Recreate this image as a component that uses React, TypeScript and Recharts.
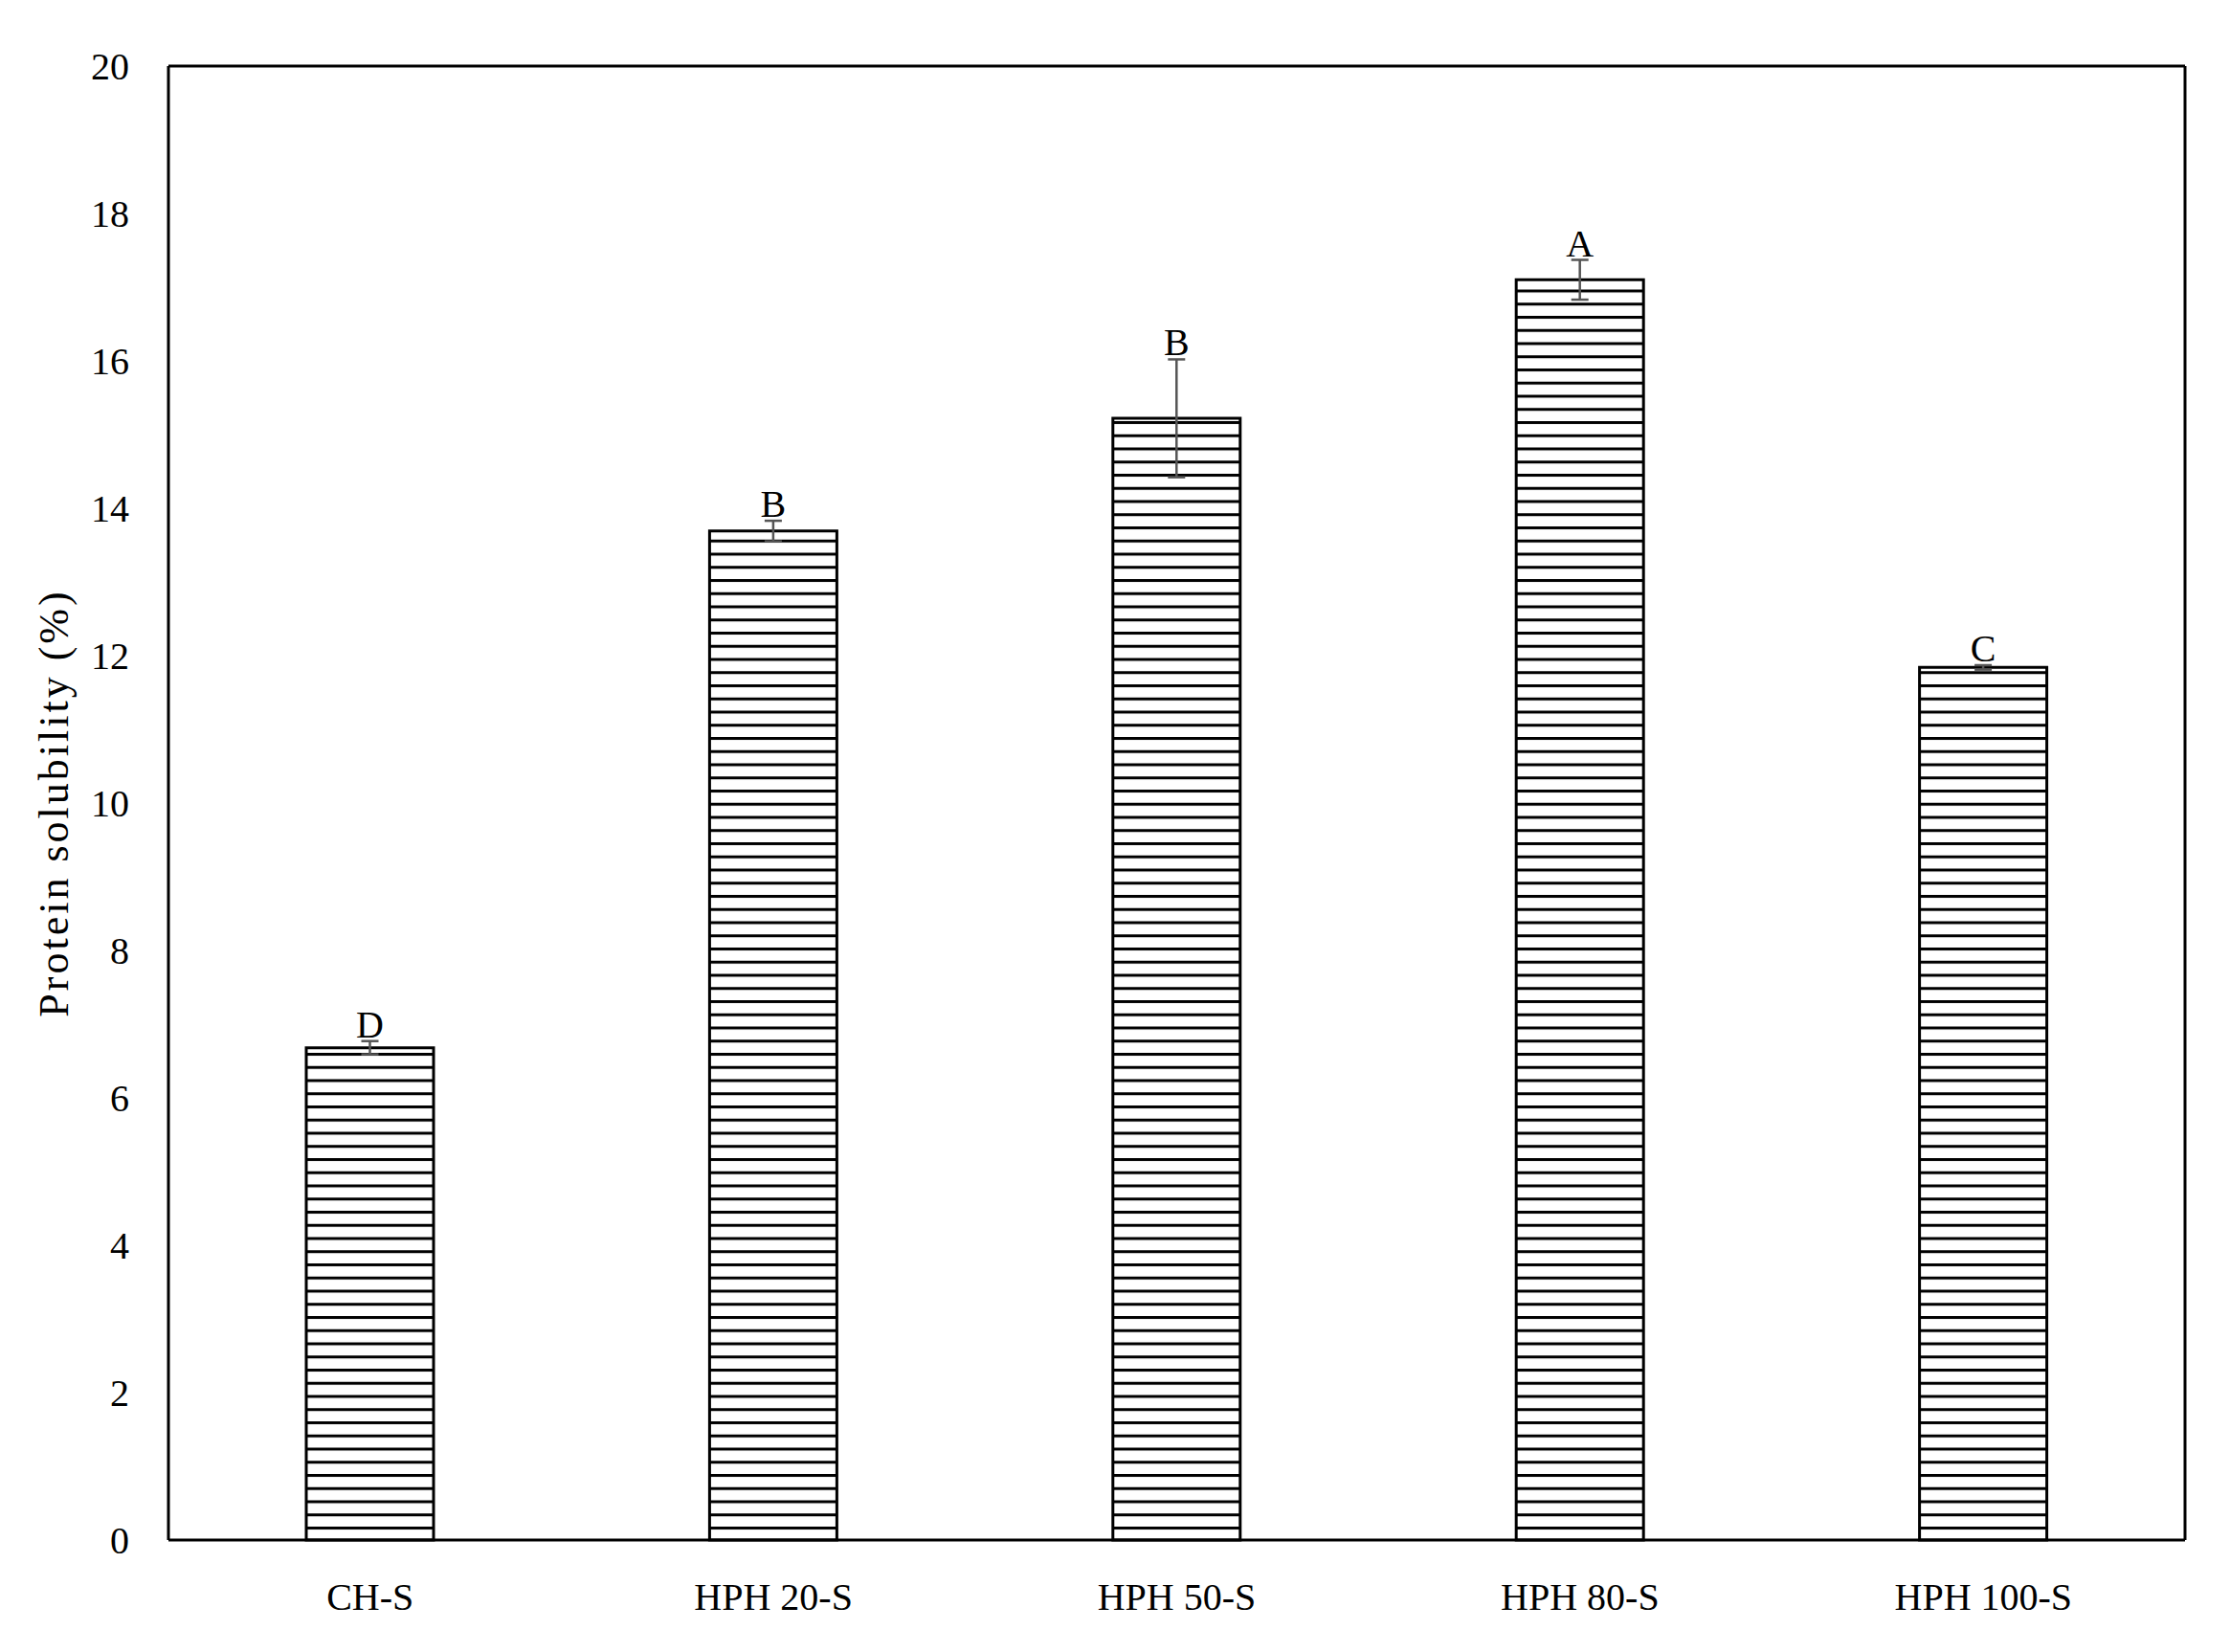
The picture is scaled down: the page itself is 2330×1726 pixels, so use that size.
import { BarChart, Bar, XAxis, YAxis, ErrorBar, LabelList, CartesianGrid } from 'recharts';

// Protein solubility of CH-S and HPH samples
const categories = ['CH-S', 'HPH 20-S', 'HPH 50-S', 'HPH 80-S', 'HPH 100-S'];
const solubility = [6.68, 13.69, 15.22, 17.1, 11.84];
const stdDev = [0.09, 0.14, 0.8, 0.27, 0.03];
const letters = ['D', 'B', 'B', 'A', 'C'];
const yTicks = [0, 2, 4, 6, 8, 10, 12, 14, 16, 18, 20];

const data = categories.map((name, i) => ({
  name,
  value: solubility[i],
  err: stdDev[i],
  letter: letters[i],
}));

const FONT = '"Liberation Serif", "Times New Roman", serif';

/**
 * Significance letter sitting just above the error bar
 */
const LetterLabel = (props: any) => {
  const { x, y, width, height, index } = props;
  const pxPerUnit = height / solubility[index];
  const top = y - stdDev[index] * pxPerUnit;
  return (
    <text
      x={x + width / 2}
      y={top - 4}
      textAnchor="middle"
      fontFamily={FONT}
      fontSize={40}
      fill="#000"
    >
      {letters[index]}
    </text>
  );
};

export default function App() {
  return (
    <div style={{ position: 'absolute', left: 0, top: 0, background: '#fff' }}>
      <BarChart
        width={2330}
        height={1726}
        data={data}
        margin={{ top: 69, right: 47, left: 0, bottom: 0 }}
        style={{ fontFamily: FONT }}
      >
        <defs>
          <pattern id="hatch" patternUnits="userSpaceOnUse" width="20" height="13.75">
            <rect x="0" y="0" width="20" height="13.75" fill="#fff" />
            <rect x="0" y="0" width="20" height="3" fill="#000" />
          </pattern>
        </defs>
        {/* top and right edges of the plot frame */}
        <CartesianGrid
          stroke="#000"
          strokeWidth={3}
          horizontalCoordinatesGenerator={({ offset }: any) => [offset.top]}
          verticalCoordinatesGenerator={({ offset }: any) => [offset.left + offset.width]}
        />
        <XAxis
          dataKey="name"
          height={117}
          tickLine={false}
          tickSize={0}
          tickMargin={45}
          axisLine={{ stroke: '#000', strokeWidth: 3 }}
          tick={{ fill: '#000', fontSize: 40, fontFamily: FONT }}
          interval={0}
        />
        <YAxis
          domain={[0, 20]}
          ticks={yTicks}
          width={176}
          tickLine={false}
          tickSize={0}
          tickMargin={41}
          axisLine={{ stroke: '#000', strokeWidth: 3 }}
          tick={{ fill: '#000', fontSize: 40, fontFamily: FONT }}
          label={{
            value: 'Protein solubility (%)',
            angle: -90,
            position: 'insideLeft',
            offset: 55,
            fill: '#000',
            fontSize: 44,
            fontFamily: FONT,
            style: { textAnchor: 'middle', letterSpacing: 3 },
          }}
        />
        <Bar
          dataKey="value"
          barSize={133}
          fill="url(#hatch)"
          stroke="#000"
          strokeWidth={3}
          isAnimationActive={false}
        >
          <ErrorBar dataKey="err" direction="y" width={9} stroke="#555" strokeWidth={2.5} />
          <LabelList dataKey="letter" content={<LetterLabel />} />
        </Bar>
      </BarChart>
    </div>
  );
}
